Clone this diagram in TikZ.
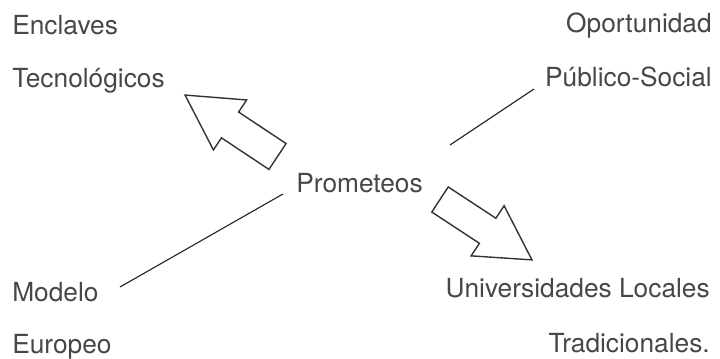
\documentclass[tikz,border=0pt]{standalone}
\usepackage{fontspec}
\setmainfont{TeX Gyre Heros}
\usepackage{tikz}

\begin{document}
\begin{tikzpicture}[x=0.025cm,y=0.025cm,
    lbl/.style={text=black!72,font=\fontsize{18.7}{23}\selectfont,inner sep=0pt},
    link/.style={draw=black!85,line width=0.8pt},
    blockarrow/.style={draw=black!80,line width=1pt,line join=miter}]
            \useasboundingbox (0,0) rectangle (720,359);
            % corner labels
            \node[lbl,anchor=base west] (encl) at (12,324.5) {Enclaves};
            \node[lbl,anchor=base west] (tecn) at (12,271) {Tecnológicos};
            \node[lbl,anchor=base east] (opor) at (712,326) {Oportunidad};
            \node[lbl,anchor=base east] (publ) at (712,272) {Público-Social};
            \node[lbl,anchor=base west] (mode) at (12,57) {Modelo};
            \node[lbl,anchor=base west] (euro) at (12,5) {Europeo};
            \node[lbl,anchor=base east] (univ) at (710,61) {Universidades Locales};
            \node[lbl,anchor=base east] (trad) at (710,6) {Tradicionales.};
            \node[lbl,anchor=base east] (prom) at (423,166) {Prometeos};
            % plain links
            \coordinate (publine) at (534,270);
            \coordinate (modline) at (120,72);
            \draw[link] (450,214) -- (publine);
            \draw[link] (modline) -- (283,165);
            % hollow arrows
            \coordinate (upfoot) at (277.5,202.5);
            \coordinate (downfoot) at (440,159.5);
            \draw[blockarrow,shift={(upfoot)},rotate=146.4]
                (0,-15.5) -- (57,-15.5) -- (57,-30) -- (111,0) -- (57,30) -- (57,15.5) -- (0,15.5) -- cycle;
            \draw[blockarrow,shift={(downfoot)},rotate=-33.3]
                (0,-15) -- (57,-15) -- (57,-30) -- (110,0) -- (57,30) -- (57,15) -- (0,15) -- cycle;
        \end{tikzpicture}
\end{document}
